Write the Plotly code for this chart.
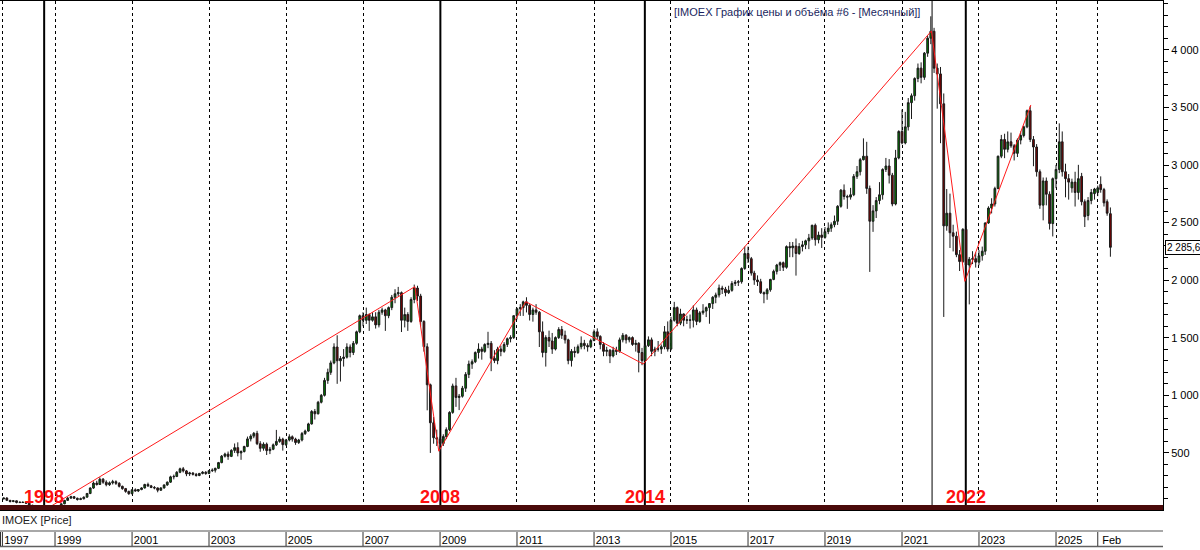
import plotly.graph_objects as go
import pandas as pd

# ---------------- data (monthly IMOEX candles, Sep 1997 .. Jun 2026) ----------------
START_MONTH = "1997-09-01"

OPEN = [
    100, 108, 88, 78,                                                     # 1997 Sep-Dec
    84, 70, 72, 70, 64, 45, 40, 42, 20, 24, 22, 25,                       # 1998
    28, 33, 36, 58, 88, 108, 120, 106, 96, 102, 116, 148,                 # 1999
    195, 238, 226, 272, 246, 224, 240, 250, 236, 210, 190, 166,           # 2000
    146, 180, 170, 182, 196, 226, 214, 200, 196, 176, 196, 222,           # 2001
    246, 292, 296, 332, 362, 344, 318, 326, 314, 304, 322, 332,           # 2002
    322, 346, 350, 366, 416, 472, 490, 470, 522, 546, 500, 512,           # 2003
    556, 622, 646, 670, 580, 540, 576, 520, 532, 570, 600, 620,           # 2004
    572, 612, 640, 620, 590, 612, 668, 690, 752, 860, 840, 940,           # 2005
    1000, 1130, 1200, 1282, 1420, 1300, 1320, 1332, 1420, 1372, 1452, 1552,  # 2006
    1692, 1652, 1702, 1652, 1682, 1612, 1722, 1742, 1692, 1762, 1852, 1882,  # 2007
    1892, 1652, 1702, 1642, 1832, 1932, 1862, 1642, 1422, 1092, 762, 632,    # 2008
    620, 582, 642, 702, 852, 1082, 982, 992, 1062, 1182, 1272, 1292,         # 2009
    1372, 1402, 1382, 1442, 1452, 1322, 1302, 1402, 1382, 1442, 1492, 1502,  # 2010
    1692, 1752, 1762, 1812, 1782, 1702, 1742, 1722, 1552, 1372, 1502, 1472,  # 2011
    1402, 1502, 1572, 1522, 1482, 1302, 1382, 1372, 1422, 1452, 1432, 1422,  # 2012
    1476, 1552, 1512, 1442, 1382, 1392, 1342, 1392, 1382, 1482, 1522, 1482,  # 2013
    1502, 1442, 1452, 1372, 1302, 1432, 1482, 1382, 1402, 1402, 1422, 1552,  # 2014
    1402, 1652, 1762, 1627, 1707, 1652, 1656, 1652, 1742, 1642, 1717, 1732,  # 2015
    1762, 1797, 1852, 1872, 1932, 1922, 1892, 1912, 1972, 1982, 1987, 2102,  # 2016
    2232, 2187, 2062, 2002, 1987, 1892, 1882, 1917, 2007, 2077, 2132, 2152,  # 2017
    2112, 2292, 2282, 2297, 2232, 2292, 2307, 2342, 2367, 2477, 2352, 2392,  # 2018
    2372, 2422, 2452, 2482, 2512, 2642, 2782, 2727, 2722, 2742, 2902, 2942,  # 2019
    3047, 3077, 2797, 2512, 2602, 2692, 2742, 2962, 2992, 2912, 2662, 3062,  # 2020
    3292, 3192, 3332, 3542, 3602, 3752, 3842, 3762, 3972, 4102, 4162, 3842,  # 2021
    3792, 3532, 2472, 2582, 2412, 2382, 2222, 2162, 2442, 2132, 2182, 2187,  # 2022
    2157, 2212, 2252, 2497, 2627, 2662, 2797, 3077, 3222, 3137, 3202, 3167,  # 2023
    3102, 3217, 3257, 3332, 3472, 3222, 3157, 2942, 2652, 2862, 2747, 2492,  # 2024
    2882, 2962, 3202, 2942, 2882, 2802, 2852, 2762, 2902, 2682, 2562, 2692,  # 2025
    2752, 2762, 2832, 2787, 2682, 2578,                                      # 2026 Jan-Jun
]
HIGH = [
    112, 115, 92, 90,
    86, 76, 78, 72, 66, 50, 48, 44, 28, 30, 28, 30,
    36, 40, 62, 92, 118, 128, 126, 112, 112, 122, 152, 202,
    252, 258, 288, 282, 262, 252, 266, 262, 246, 216, 196, 172,
    186, 192, 186, 202, 232, 242, 222, 212, 200, 202, 226, 252,
    302, 312, 342, 372, 378, 352, 336, 332, 326, 326, 342, 342,
    352, 366, 372, 422, 482, 502, 512, 532, 582, 592, 522, 562,
    642, 662, 682, 692, 602, 592, 590, 552, 582, 700, 642, 632,
    622, 662, 652, 632, 622, 682, 702, 762, 872, 882, 952, 1012,
    1152, 1232, 1302, 1452, 1522, 1342, 1402, 1452, 1442, 1472, 1562, 1702,
    1722, 1762, 1712, 1722, 1722, 1742, 1762, 1752, 1772, 1872, 1922, 1942,
    1902, 1762, 1722, 1852, 1962, 1952, 1882, 1652, 1452, 1102, 812, 702,
    642, 662, 722, 862, 1102, 1152, 1012, 1082, 1202, 1302, 1312, 1382,
    1452, 1422, 1452, 1552, 1472, 1392, 1422, 1432, 1462, 1502, 1522, 1692,
    1762, 1792, 1822, 1852, 1792, 1762, 1792, 1732, 1642, 1522, 1562, 1542,
    1512, 1592, 1602, 1562, 1492, 1402, 1422, 1442, 1512, 1482, 1452, 1492,
    1572, 1582, 1522, 1462, 1422, 1402, 1422, 1422, 1502, 1542, 1532, 1512,
    1512, 1482, 1462, 1412, 1442, 1512, 1502, 1422, 1472, 1442, 1602, 1642,
    1682, 1812, 1772, 1752, 1712, 1692, 1702, 1782, 1762, 1732, 1792, 1772,
    1802, 1862, 1892, 1962, 1952, 1942, 1952, 1992, 2002, 2002, 2112, 2292,
    2292, 2202, 2082, 2042, 2012, 1902, 1932, 2012, 2092, 2142, 2162, 2162,
    2302, 2332, 2332, 2362, 2322, 2342, 2352, 2402, 2482, 2492, 2422, 2452,
    2462, 2502, 2502, 2562, 2652, 2792, 2832, 2742, 2802, 2922, 2992, 3062,
    3232, 3202, 2822, 2652, 2722, 2852, 2972, 3062, 3052, 2932, 3132, 3302,
    3482, 3462, 3582, 3622, 3762, 3882, 3892, 3982, 4122, 4292, 4192, 3882,
    3852, 3622, 2792, 2752, 2482, 2422, 2262, 2452, 2472, 2202, 2252, 2242,
    2262, 2292, 2502, 2642, 2712, 2812, 3082, 3262, 3272, 3292, 3282, 3182,
    3232, 3292, 3342, 3482, 3512, 3252, 3182, 2962, 2892, 2892, 2772, 2892,
    3002, 3362, 3292, 3012, 2922, 2882, 2942, 3002, 2932, 2702, 2722, 2792,
    2802, 2822, 2902, 2802, 2702, 2632,
]
LOW = [
    98, 82, 70, 72,
    62, 64, 66, 60, 42, 36, 36, 16, 15, 18, 20, 22,
    25, 30, 35, 55, 84, 100, 102, 86, 90, 96, 112, 142,
    188, 216, 222, 232, 210, 214, 226, 222, 200, 180, 154, 136,
    140, 164, 160, 176, 190, 204, 194, 184, 158, 170, 190, 214,
    240, 270, 290, 324, 330, 298, 300, 304, 294, 298, 314, 310,
    316, 334, 330, 360, 410, 460, 440, 464, 500, 470, 440, 504,
    550, 600, 628, 568, 510, 520, 482, 490, 524, 560, 588, 520,
    560, 600, 598, 570, 578, 600, 656, 684, 746, 790, 834, 930,
    990, 1100, 1178, 1270, 1100, 1120, 1250, 1320, 1330, 1350, 1440, 1540,
    1600, 1620, 1560, 1640, 1580, 1590, 1700, 1560, 1670, 1740, 1800, 1862,
    1550, 1590, 1560, 1630, 1800, 1820, 1600, 1380, 870, 500, 580, 560,
    512, 560, 620, 690, 840, 900, 872, 980, 1030, 1150, 1230, 1280,
    1320, 1310, 1370, 1410, 1210, 1280, 1270, 1340, 1370, 1420, 1460, 1490,
    1660, 1690, 1690, 1720, 1650, 1640, 1700, 1420, 1330, 1250, 1420, 1360,
    1390, 1490, 1490, 1450, 1270, 1250, 1330, 1360, 1400, 1400, 1380, 1410,
    1470, 1490, 1400, 1340, 1340, 1280, 1330, 1350, 1370, 1460, 1450, 1460,
    1430, 1380, 1200, 1262, 1290, 1420, 1340, 1340, 1380, 1360, 1400, 1380,
    1390, 1640, 1600, 1610, 1600, 1620, 1580, 1590, 1610, 1630, 1700, 1680,
    1622, 1750, 1800, 1850, 1880, 1860, 1880, 1900, 1950, 1950, 1970, 2090,
    2150, 2040, 1960, 1950, 1880, 1800, 1830, 1900, 2000, 2050, 2080, 2080,
    2100, 2200, 2200, 2040, 2220, 2250, 2270, 2270, 2350, 2300, 2320, 2280,
    2360, 2400, 2420, 2460, 2480, 2630, 2700, 2620, 2700, 2730, 2880, 2910,
    3040, 2750, 2072, 2420, 2540, 2660, 2700, 2940, 2840, 2642, 2650, 3050,
    3180, 3180, 3300, 3400, 3560, 3720, 3710, 3740, 3940, 4050, 3800, 3490,
    3190, 1681, 2430, 2280, 2250, 2200, 2080, 2150, 1830, 1790, 2140, 2110,
    2130, 2170, 2220, 2490, 2580, 2640, 2790, 3060, 3060, 3110, 3150, 3040,
    3070, 3180, 3240, 3320, 3200, 2990, 2900, 2620, 2520, 2650, 2440, 2380,
    2800, 2930, 2900, 2720, 2700, 2760, 2640, 2700, 2650, 2462, 2520, 2660,
    2700, 2730, 2760, 2640, 2560, 2204,
]
CLOSE = [
    108, 88, 78, 84,
    70, 72, 70, 64, 45, 40, 42, 20, 24, 22, 25, 28,
    33, 36, 58, 88, 108, 120, 106, 96, 102, 116, 148, 195,
    238, 226, 272, 246, 224, 240, 250, 236, 210, 190, 166, 146,
    180, 170, 182, 196, 226, 214, 200, 196, 176, 196, 222, 246,
    292, 296, 332, 362, 344, 318, 326, 314, 304, 322, 332, 322,
    346, 350, 366, 416, 472, 490, 470, 522, 546, 500, 512, 556,
    622, 646, 670, 580, 540, 576, 520, 532, 570, 600, 620, 572,
    612, 640, 620, 590, 612, 668, 690, 752, 860, 840, 940, 1000,
    1130, 1200, 1282, 1420, 1300, 1320, 1332, 1420, 1372, 1452, 1552, 1692,
    1652, 1702, 1652, 1682, 1612, 1722, 1742, 1692, 1762, 1852, 1882, 1892,
    1652, 1702, 1642, 1832, 1932, 1862, 1642, 1422, 1092, 762, 632, 620,
    582, 642, 702, 852, 1082, 982, 992, 1062, 1182, 1272, 1292, 1372,
    1402, 1382, 1442, 1452, 1322, 1302, 1402, 1382, 1442, 1492, 1502, 1692,
    1752, 1762, 1812, 1782, 1702, 1742, 1722, 1552, 1372, 1502, 1472, 1402,
    1502, 1572, 1522, 1482, 1302, 1382, 1372, 1422, 1452, 1432, 1422, 1476,
    1552, 1512, 1442, 1382, 1392, 1342, 1392, 1382, 1482, 1522, 1482, 1502,
    1442, 1452, 1372, 1302, 1432, 1482, 1382, 1402, 1402, 1422, 1552, 1402,
    1652, 1762, 1627, 1707, 1652, 1656, 1652, 1742, 1642, 1717, 1732, 1762,
    1797, 1852, 1872, 1932, 1922, 1892, 1912, 1972, 1982, 1987, 2102, 2232,
    2187, 2062, 2002, 1987, 1892, 1882, 1917, 2007, 2077, 2132, 2152, 2112,
    2292, 2282, 2297, 2232, 2292, 2307, 2342, 2367, 2477, 2352, 2392, 2372,
    2422, 2452, 2482, 2512, 2642, 2782, 2727, 2722, 2742, 2902, 2942, 3047,
    3077, 2797, 2512, 2602, 2692, 2742, 2962, 2992, 2912, 2662, 3062, 3292,
    3192, 3332, 3542, 3602, 3752, 3842, 3762, 3972, 4102, 4162, 3842, 3792,
    3532, 2472, 2582, 2412, 2382, 2222, 2162, 2442, 2132, 2182, 2187, 2157,
    2212, 2252, 2497, 2627, 2662, 2797, 3077, 3222, 3137, 3202, 3167, 3102,
    3217, 3257, 3332, 3472, 3222, 3157, 2942, 2652, 2862, 2747, 2492, 2882,
    2962, 3202, 2942, 2882, 2852, 2852, 2762, 2882, 2682, 2552, 2692, 2762,
    2792, 2802, 2787, 2672, 2582, 2285.6,
]

# red trend polyline (hand-drawn on the original chart)
TREND_DATES = ["1998-10-27", "2008-05-07", "2008-12-20", "2011-03-25",
               "2014-04-13", "2021-10-07", "2022-08-20", "2024-05-07"]
TREND_VALUES = [22, 1944, 515, 1814, 1272, 4165, 1990, 3522]

# black crisis markers and their red captions
EVENT_DATES = ["1998-09-20", "2009-01-04", "2014-04-28", "2021-10-13", "2022-08-29"]
EVENT_LABELS = ["1998", "2008", "2014", "", "2022"]
EVENT_WIDTHS = [2, 2, 2, 1, 2]

# time-axis cells
TIME_TICKS = ["1997-08-20", "1999-01-01", "2001-01-01", "2003-01-01", "2005-01-01",
              "2007-01-01", "2009-01-01", "2011-01-01", "2013-01-01", "2015-01-01",
              "2017-01-01", "2019-01-01", "2021-01-01", "2023-01-01", "2025-01-01",
              "2026-02-01"]
TIME_LABELS = ["1997", "1999", "2001", "2003", "2005", "2007", "2009", "2011", "2013",
               "2015", "2017", "2019", "2021", "2023", "2025", "Feb"]

PRICE_TICKS = [500, 1000, 1500, 2000, 2500, 3000, 3500, 4000]
PRICE_LABELS = ["500", "1 000", "1 500", "2 000", "2 500", "3 000", "3 500", "4 000"]
LAST_PRICE = 2285.6
LAST_LABEL = "2 285,6"
TITLE = "[IMOEX График цены и объёма #6 - [Месячный]]"

# ---------------- figure ----------------
W, H = 1200, 550
L, R, T, B = 0, 37, 1, 40
PW, PH = W - L - R, H - T - B


def px_x(px):
    return (px - L) / PW


def px_y(py):
    return (H - B - py) / PH


dates = pd.date_range(START_MONTH, periods=len(CLOSE), freq="MS")

FONT = "Liberation Sans, Arial, sans-serif"

fig = go.Figure()
fig.add_trace(go.Candlestick(
    x=dates, open=OPEN, high=HIGH, low=LOW, close=CLOSE,
    increasing=dict(line=dict(color="#1a1a1a", width=1), fillcolor="#007a00"),
    decreasing=dict(line=dict(color="#1a1a1a", width=1), fillcolor="#7a0000"),
    whiskerwidth=0, showlegend=False, hoverinfo="skip",
))
fig.add_trace(go.Scatter(
    x=TREND_DATES, y=TREND_VALUES, mode="lines",
    line=dict(color="#ff1a1a", width=1), showlegend=False, hoverinfo="skip",
))

shapes = []
annotations = []
for d, lab, w in zip(EVENT_DATES, EVENT_LABELS, EVENT_WIDTHS):
    shapes.append(dict(type="line", xref="x", yref="paper", x0=d, x1=d, y0=0, y1=1,
                       line=dict(color="black", width=w), layer="below"))
    if lab:
        annotations.append(dict(x=d, xref="x", y=px_y(497), yref="paper", text=f"<b>{lab}</b>",
                                showarrow=False, xanchor="center", yanchor="middle",
                                font=dict(family=FONT, size=18, color="#ff1010")))

# dark bar at the bottom of the price pane
shapes.append(dict(type="rect", xref="paper", yref="paper", x0=0, x1=1,
                   y0=px_y(510), y1=px_y(505), fillcolor="#4a0a0a", line=dict(width=0),
                   layer="above"))
# time-axis box
shapes.append(dict(type="line", xref="paper", yref="paper", x0=px_x(0), x1=1,
                   y0=px_y(531), y1=px_y(531), line=dict(color="#a8a8a8", width=2)))
shapes.append(dict(type="line", xref="paper", yref="paper", x0=px_x(0), x1=1,
                   y0=px_y(546.5), y1=px_y(546.5), line=dict(color="#606060", width=1.5)))
for d in TIME_TICKS:
    shapes.append(dict(type="line", xref="x", yref="paper", x0=d, x1=d,
                       y0=px_y(546), y1=px_y(532), line=dict(color="#303030", width=1)))
shapes.append(dict(type="line", xref="paper", yref="paper", x0=px_x(0.5), x1=px_x(0.5),
                   y0=px_y(546), y1=px_y(532), line=dict(color="#303030", width=1)))

annotations.append(dict(x=px_x(797), y=px_y(12), xref="paper", yref="paper", text=TITLE,
                        showarrow=False, xanchor="center", yanchor="middle",
                        font=dict(family=FONT, size=11, color="#1a1f5e")))
annotations.append(dict(x=px_x(0), y=px_y(520), xref="paper", yref="paper", text="IMOEX [Price]",
                        showarrow=False, xanchor="left", yanchor="middle",
                        font=dict(family=FONT, size=11, color="#202020")))
annotations.append(dict(x=px_x(1165), y=LAST_PRICE, xref="paper", yref="y", text=LAST_LABEL,
                        showarrow=False, xanchor="left", yanchor="middle",
                        bgcolor="white", bordercolor="black", borderwidth=1, borderpad=1,
                        font=dict(family=FONT, size=10, color="black")))

fig.update_layout(
    width=W, height=H,
    margin=dict(l=L, r=R, t=T, b=B),
    paper_bgcolor="white", plot_bgcolor="white",
    font=dict(family=FONT, size=11, color="black"),
    shapes=shapes, annotations=annotations,
    boxgap=0.15,
    xaxis=dict(
        type="date", range=["1997-07-28", "2027-10-13"],
        rangeslider=dict(visible=False),
        tickmode="array", tickvals=TIME_TICKS, ticktext=TIME_LABELS,
        ticks="", showgrid=True, gridcolor="black", gridwidth=1, griddash="3px,3px",
        showline=True, linecolor="black", linewidth=1, mirror=True,
        zeroline=False, ticklabelstandoff=20, ticklabelshift=14,
        tickfont=dict(family=FONT, size=11, color="black"),
    ),
    yaxis=dict(
        side="right", range=[4.3, 4425],
        tickmode="array", tickvals=PRICE_TICKS, ticktext=PRICE_LABELS,
        ticks="outside", ticklen=5, tickcolor="black",
        minor=dict(dtick=100, ticks="outside", ticklen=4, tickcolor="black", showgrid=False),
        showgrid=False, zeroline=False,
        showline=True, linecolor="black", linewidth=1,
        tickfont=dict(family=FONT, size=11, color="black"),
    ),
)

fig.write_html("out.html")
